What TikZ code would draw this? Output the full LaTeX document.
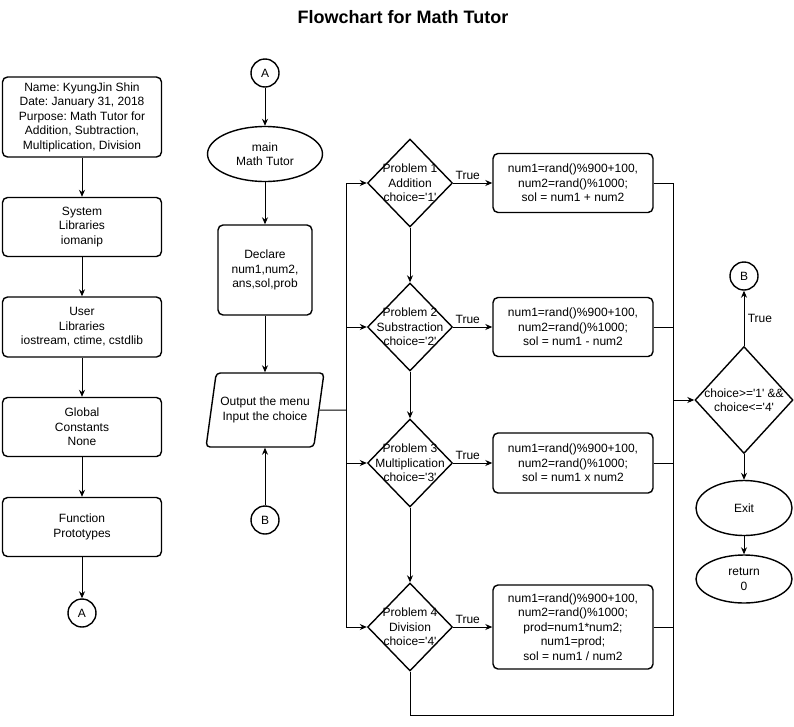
\documentclass[tikz,border=0pt]{standalone}
\usepackage{fontspec}
\setmainfont{Liberation Sans}[Ligatures=TeXOff]
\frenchspacing
\usetikzlibrary{shapes.geometric,arrows.meta}
\begin{document}
\begin{tikzpicture}[x=1pt,y=-1pt,>={Stealth[length=7pt,width=6pt]},
        every node/.style={font=\fontsize{12}{14.5}\selectfont,align=center},
        shape line/.style={draw,line width=1.4pt},
        box/.style={shape line,rounded corners=5pt,inner sep=0pt,minimum width=159pt,minimum height=#1},
        term/.style={shape line,circle,inner sep=0pt,minimum size=28pt},
        oval/.style={shape line,ellipse,inner sep=0pt,minimum width=#1},
        decision/.style={shape line,diamond,inner sep=0pt,minimum width=85pt,minimum height=88pt},
        flow/.style={line width=1pt}]
        \useasboundingbox (0,0) rectangle (794,726);
        \node[font=\bfseries\fontsize{18}{21}\selectfont] (title) at (403,17) {Flowchart for Math Tutor};
        \node[box=80pt] (head) at (82,117) {Name: KyungJin Shin\\Date: January 31, 2018\\Purpose: Math Tutor for\\Addition, Subtraction,\\Multiplication, Division};
        \node[box=59pt] (syslib) at (82,227) {System\\Libraries\\iomanip};
        \node[box=60pt] (usrlib) at (82,327) {User\\Libraries\\iostream, ctime, cstdlib};
        \node[box=59pt] (const) at (82,427) {Global\\Constants\\None};
        \node[box=59pt] (proto) at (82,527) {Function\\Prototypes};
        \node[term] (toA) at (82,613) {A};
        \draw[flow,->] (head) -- (syslib);
        \draw[flow,->] (syslib) -- (usrlib);
        \draw[flow,->] (usrlib) -- (const);
        \draw[flow,->] (const) -- (proto);
        \draw[flow,->] (proto) -- (toA);
        \node[term] (fromA) at (265,73) {A};
        \node[oval=115pt,minimum height=55pt] (main) at (265,154) {main\\Math Tutor};
        \node[box=90pt,minimum width=94pt] (decl) at (265,270) {Declare\\num1,num2,\\ans,sol,prob};
        \node[shape line,trapezium,trapezium left angle=70,trapezium right angle=110,trapezium stretches=true,
            rounded corners=4pt,inner sep=0pt,minimum width=118pt,minimum height=74pt] (menu) at (265,410) {Output the menu\\Input the choice};
        \node[term] (fromB) at (265,520) {B};
        \draw[flow,->] (fromA) -- (main);
        \draw[flow,->] (main) -- (decl);
        \draw[flow,->] (decl) -- (menu);
        \draw[flow,->] (fromB) -- (menu);
        \node[decision,label={center:{Problem 1\\Addition\\choice='1'}}] (p1) at (410,183) {};
        \node[decision,label={center:{Problem 2\\Substraction\\choice='2'}}] (p2) at (410,327) {};
        \node[decision,label={center:{Problem 3\\Multiplication\\choice='3'}}] (p3) at (410,463) {};
        \node[decision,label={center:{Problem 4\\Division\\choice='4'}}] (p4) at (410,627) {};
        \node[box=59pt,minimum width=160pt] (add) at (573,183) {num1=rand()\%900+100,\\num2=rand()\%1000;\\sol = num1 + num2};
        \node[box=59pt,minimum width=160pt] (sub) at (573,327) {num1=rand()\%900+100,\\num2=rand()\%1000;\\sol = num1 - num2};
        \node[box=60pt,minimum width=160pt] (mul) at (573,463) {num1=rand()\%900+100,\\num2=rand()\%1000;\\sol = num1 x num2};
        \node[box=84pt,minimum width=160pt] (div) at (573,627) {num1=rand()\%900+100,\\num2=rand()\%1000;\\prod=num1*num2;\\num1=prod;\\sol = num1 / num2};
        \coordinate (split) at (346,410);
        \draw[flow] (menu.east) -- (split);
        \draw[flow,->] (split) |- (p1.west);
        \draw[flow,->] (split) |- (p2.west);
        \draw[flow,->] (split) |- (p3.west);
        \draw[flow,->] (split) |- (p4.west);
        \draw[flow,->] (p1) -- (p2);
        \draw[flow,->] (p2) -- (p3);
        \draw[flow,->] (p3) -- (p4);
        \draw[flow,->] (p1) -- node[above,xshift=-5pt]{True} (add);
        \draw[flow,->] (p2) -- node[above,xshift=-5pt]{True} (sub);
        \draw[flow,->] (p3) -- node[above,xshift=-5pt]{True} (mul);
        \draw[flow,->] (p4) -- node[above,xshift=-5pt]{True} (div);
        \node[decision,minimum width=98pt,minimum height=107pt,label={center:{choice>='1' \&\&\\choice<='4'}}] (check) at (744,400) {};
        \node[term] (toB) at (744,276) {B};
        \node[oval=96pt,minimum height=55pt] (exit) at (744,508) {Exit};
        \node[oval=96pt,minimum height=48pt] (ret) at (744,579) {return\\0};
        \coordinate (merge) at (673,400);
        \coordinate (loop) at (673,715);
        \draw[flow] (add.east) -| (merge);
        \draw[flow] (sub.east) -| (merge);
        \draw[flow] (mul.east) -| (merge);
        \draw[flow] (div.east) -| (merge);
        \draw[flow] (p4.south) |- (loop) -- (merge);
        \draw[flow,->] (merge) -- (check.west);
        \draw[flow,->] (check) -- node[right]{True} (toB);
        \draw[flow,->] (check) -- (exit);
        \draw[flow,->] (exit) -- (ret);
\end{tikzpicture}
\end{document}
